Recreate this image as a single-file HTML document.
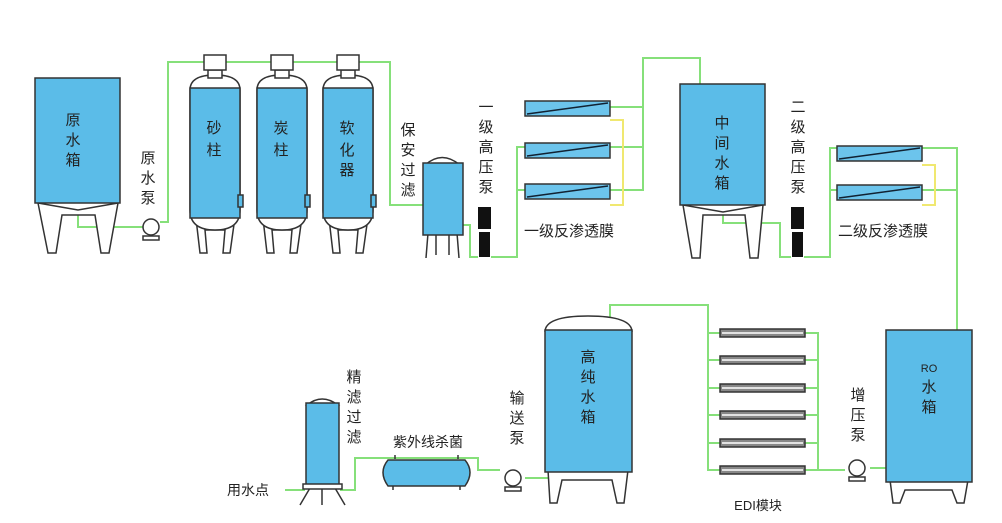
<!DOCTYPE html><html><head><meta charset="utf-8"><style>body{margin:0;background:#fff}svg{display:block}text{font-family:"Liberation Sans","Noto Sans CJK SC",sans-serif;font-size:15px;fill:#222}</style></head><body>
<svg width="1002" height="523" viewBox="0 0 1002 523">
<g fill="none" stroke="#86e07a" stroke-width="2">
<polyline points="78,207 78,227 145,227"/>
<polyline points="160,222 168,222 168,62 390,62 390,205 423,205"/>
<polyline points="462,225 470,225 470,257 478,257"/>
<polyline points="491,257 517,257 517,147 525,147"/><line x1="517" y1="190" x2="525" y2="190"/>
<polyline points="610,107 643,107 643,58 700,58 700,84"/><line x1="610" y1="147" x2="643" y2="147"/><polyline points="610,190 643,190 643,107"/>
<polyline points="723,208 723,223 780,223 780,257 791,257"/>
<polyline points="804,257 830,257 830,148 837,148"/><line x1="830" y1="190" x2="837" y2="190"/>
<polyline points="922,148 957,148 957,330"/><line x1="922" y1="190" x2="957" y2="190"/>
<polyline points="610,318 610,305 708,305 708,470 720,470"/>
<line x1="708" y1="333" x2="720" y2="333"/><line x1="708" y1="360" x2="720" y2="360"/><line x1="708" y1="388" x2="720" y2="388"/><line x1="708" y1="415" x2="720" y2="415"/><line x1="708" y1="443" x2="720" y2="443"/>
<polyline points="805,333 818,333 818,470 845,470"/><line x1="805" y1="360" x2="818" y2="360"/><line x1="805" y1="388" x2="818" y2="388"/><line x1="805" y1="415" x2="818" y2="415"/><line x1="805" y1="443" x2="818" y2="443"/><line x1="805" y1="470" x2="818" y2="470"/>
<polyline points="870,468 928,468 928,458"/>
<polyline points="525,478 582,478 582,465"/>
<polyline points="500,470 478,470 478,458 355,458 355,490 340,490"/>
<line x1="285" y1="490" x2="305" y2="490"/>
</g>
<g fill="none" stroke="#f0e870" stroke-width="2"><polyline points="610,120 623,120 623,205 610,205"/><polyline points="922,165 935,165 935,205 922,205"/></g>
<g stroke="#333" stroke-width="1.5" fill="#fff">
<path d="M38,203 L48,253 L56,253 L62,215 L95,215 L101,253 L109,253 L118,203"/><path d="M38,203 L78,210 L118,203"/>
<rect x="35" y="78" width="85" height="125" fill="#5bbce8"/>
<g id="c"><path d="M195,210 L200,253 L207,253 L205,230 L225,230 L223,253 L230,253 L236,210"/><path d="M190,90 Q190,75 215,75 Q240,75 240,90 V210 Q240,230 215,230 Q190,230 190,210 Z"/><rect x="190" y="88" width="50" height="130" fill="#5bbce8"/><rect x="208" y="70" width="14" height="8"/><rect x="204" y="55" width="22" height="15"/><rect x="238" y="195" width="5" height="12" fill="#5bbce8"/></g>
<use href="#c" x="67"/><use href="#c" x="133"/>
<path d="M428,233 L426,258 M457,233 L459,258 M436,233 L436,255 M449,233 L449,255"/>
<path d="M425,165 Q442,150 460,165 Z"/><rect x="423" y="163" width="40" height="72" fill="#5bbce8"/>
<g id="mb"><rect x="525" y="101" width="85" height="15" fill="#6cc4ec"/><line x1="527" y1="114" x2="608" y2="103" stroke="#123"/></g>
<use href="#mb" y="42"/><use href="#mb" y="83"/><use href="#mb" x="312" y="45"/><use href="#mb" x="312" y="84"/>
<path d="M683,205 L692,258 L700,258 L703,215 L745,215 L750,258 L758,258 L763,205"/><path d="M683,205 L723,212 L763,205"/>
<rect x="680" y="84" width="85" height="121" fill="#5bbce8"/>
<path d="M890,480 L893,503 L900,503 L905,490 L952,490 L957,503 L964,503 L968,480"/>
<rect x="886" y="330" width="86" height="152" fill="#5bbce8"/>
<path d="M548,470 L550,503 L557,503 L562,480 L612,480 L617,503 L624,503 L628,470"/>
<path d="M545,332 Q545,316 588,316 Q632,316 632,332"/>
<rect x="545" y="330" width="87" height="142" fill="#5bbce8"/>
<path d="M310,488 L300,505 M335,488 L345,505 M322,488 L322,505"/>
<path d="M307,405 Q322,393 338,405 Z"/><rect x="306" y="403" width="33" height="82" fill="#5bbce8"/><rect x="303" y="484" width="39" height="5"/>
<path d="M393,485 L393,490 M460,485 L460,490 M395,459 V455 M458,459 V455"/>
<path d="M388,460 H465 Q475,472 465,486 H388 Q378,472 388,460 Z" fill="#5bbce8"/>
<g fill="#888"><rect x="720" y="329" width="85" height="8"/><rect x="720" y="356" width="85" height="8"/><rect x="720" y="384" width="85" height="8"/><rect x="720" y="411" width="85" height="8"/><rect x="720" y="439" width="85" height="8"/><rect x="720" y="466" width="85" height="8"/></g>
<circle cx="151" cy="227" r="8"/><rect x="143" y="236" width="16" height="4"/>
<circle cx="513" cy="478" r="8"/><rect x="505" y="487" width="16" height="4"/>
<circle cx="857" cy="468" r="8"/><rect x="849" y="477" width="16" height="4"/>
</g>
<g stroke="#fff" stroke-width="1.5"><line x1="722" y1="333" x2="803" y2="333"/><line x1="722" y1="360" x2="803" y2="360"/><line x1="722" y1="388" x2="803" y2="388"/><line x1="722" y1="415" x2="803" y2="415"/><line x1="722" y1="443" x2="803" y2="443"/><line x1="722" y1="470" x2="803" y2="470"/></g>
<g fill="#111"><rect x="478" y="207" width="13" height="22"/><rect x="479" y="232" width="11" height="25"/><rect x="791" y="207" width="13" height="22"/><rect x="792" y="232" width="11" height="25"/></g>
<g text-anchor="middle">
<text x="73" y="125">原</text><text x="73" y="145">水</text><text x="73" y="165">箱</text>
<text x="148" y="163">原</text><text x="148" y="183">水</text><text x="148" y="203">泵</text>
<text x="214" y="133">砂</text><text x="214" y="155">柱</text>
<text x="281" y="133">炭</text><text x="281" y="155">柱</text>
<text x="347" y="133">软</text><text x="347" y="155">化</text><text x="347" y="175">器</text>
<text x="408" y="135">保</text><text x="408" y="155">安</text><text x="408" y="175">过</text><text x="408" y="195">滤</text>
<text x="486" y="112">一</text><text x="486" y="132">级</text><text x="486" y="152">高</text><text x="486" y="172">压</text><text x="486" y="192">泵</text>
<text x="722" y="128">中</text><text x="722" y="148">间</text><text x="722" y="168">水</text><text x="722" y="188">箱</text>
<text x="798" y="112">二</text><text x="798" y="132">级</text><text x="798" y="152">高</text><text x="798" y="172">压</text><text x="798" y="192">泵</text>
<text x="569" y="236">一级反渗透膜</text><text x="883" y="236">二级反渗透膜</text>
<text x="929" y="372" style="font-size:11px">RO</text><text x="929" y="392">水</text><text x="929" y="412">箱</text>
<text x="858" y="400">增</text><text x="858" y="420">压</text><text x="858" y="440">泵</text>
<text x="588" y="362">高</text><text x="588" y="382">纯</text><text x="588" y="402">水</text><text x="588" y="422">箱</text>
<text x="517" y="403">输</text><text x="517" y="423">送</text><text x="517" y="443">泵</text>
<text x="354" y="382">精</text><text x="354" y="402">滤</text><text x="354" y="422">过</text><text x="354" y="442">滤</text>
<text x="428" y="447" style="font-size:14px">紫外线杀菌</text>
<text x="248" y="495" style="font-size:14px">用水点</text>
<text x="758" y="510" style="font-size:13px">EDI模块</text>
</g>
</svg></body></html>
